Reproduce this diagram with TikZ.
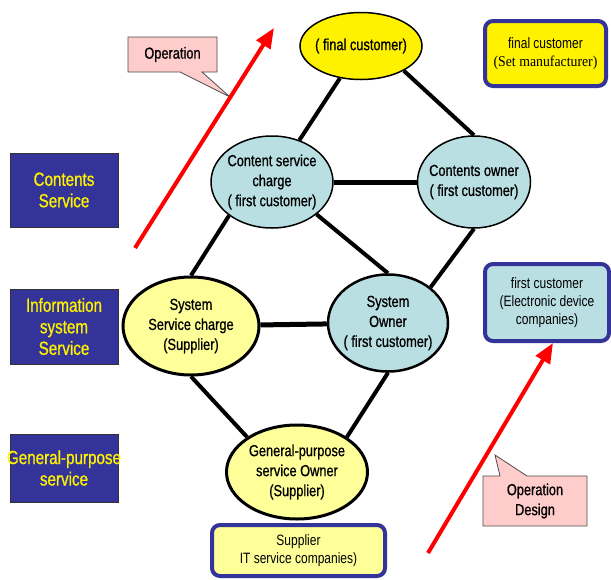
\documentclass[tikz,border=0pt]{standalone}
\usepackage{fontspec}
\setmainfont{Liberation Sans}[FakeStretch=0.8]
\newfontfamily\heavy{Liberation Sans}[FakeStretch=0.8,FakeBold=0.8]
\newfontfamily\tnr{Liberation Serif}[FakeStretch=0.92]
\usetikzlibrary{arrows.meta,shapes.geometric}
\definecolor{navy}{RGB}{51,51,153}
\definecolor{lblue}{RGB}{185,223,227}
\definecolor{pyellow}{RGB}{255,255,153}
\definecolor{pinkc}{RGB}{255,204,204}
\begin{document}
\begin{tikzpicture}[x=1pt,y=-1pt,
  ell/.style={draw=black, ellipse, inner sep=0pt},
  etext/.style={align=center, font=\heavy\fontsize{16}{20}\selectfont, inner sep=0pt},
  conn/.style={line width=4pt},
  layer/.style={draw=black!80, line width=0.8pt, fill=navy, text=yellow, align=center, font=\heavy\fontsize{19}{21.5}\selectfont, inner sep=0pt, minimum width=108pt},
  rbox/.style={draw=navy, line width=4pt, rounded corners=8pt, align=center, font=\fontsize{15}{18}\selectfont, inner sep=0pt},
  redarrow/.style={draw=red, line width=4pt, -{Triangle[length=20pt,width=16pt]}},
  callout/.style={draw=black!70, fill=pinkc, line width=0.8pt},
  ctext/.style={align=center, font=\heavy\fontsize{16}{20}\selectfont, inner sep=0pt},
]
\useasboundingbox (0,0) rectangle (611,579);

% callouts
\draw[callout] (128,37) -- (217,37) -- (217,72) -- (202,72) -- (230,97) -- (180,72) -- (128,72) -- cycle;
\node[ctext] (opL) at (172.5,54.5) {Operation};
\draw[callout] (483,476) -- (500,476) -- (495,455) -- (527,476) -- (587,476) -- (587,526) -- (483,526) -- cycle;
\node[ctext] (dsL) at (535,501) {Operation\\Design};

% red arrows
\coordinate (opS) at (135,248);
\coordinate (opE) at (274,28);
\draw[redarrow] (opS) -- (opE);
\coordinate (dsS) at (428,553);
\coordinate (dsE) at (553,343);
\draw[redarrow] (dsS) -- (dsE);

% ellipses
\node[ell, fill=yellow, line width=1.5pt, minimum width=122pt, minimum height=67pt] (top) at (361,46) {};
\node[etext] (topT) at (top) {( final customer)};
\node[ell, fill=lblue, line width=1.5pt, minimum width=122pt, minimum height=92pt] (csc) at (272,182) {};
\node[etext] (cscT) at (csc) {Content service\\charge\\( first customer)};
\node[ell, fill=lblue, line width=1.5pt, minimum width=113pt, minimum height=92pt] (co) at (474,182) {};
\node[etext] (coT) at (co) {Contents owner\\( first customer)};
\node[ell, fill=pyellow, line width=3pt, minimum width=136pt, minimum height=98pt] (ssc) at (191,326) {};
\node[etext] (sscT) at (ssc) {System\\Service charge\\(Supplier)};
\node[ell, fill=lblue, line width=2.5pt, minimum width=120pt, minimum height=97pt] (so) at (388,323) {};
\node[etext] (soT) at (so) {System\\Owner\\( first customer)};
\node[ell, fill=pyellow, line width=3pt, minimum width=141pt, minimum height=94pt] (gpo) at (297,472) {};
\node[etext] (gpoT) at (gpo) {General-purpose\\service Owner\\(Supplier)};

% connectors
\draw[conn] (top) -- (csc);
\draw[conn] (top.-30) -- (co.north);
\draw[conn, line width=5pt] (csc) -- (co);
\draw[conn] (csc.-36) -- (so.north);
\draw[conn] (co.south) -- (so.40);
\draw[conn] (csc.-142) -- (ssc.north);
\draw[conn, line width=5pt] (ssc) -- (so);
\draw[conn] (ssc.south) -- (gpo.145);
\draw[conn] (so.south) -- (gpo.35);

% left layer boxes
\node[layer, minimum height=74pt] (ls1) at (64,190) {Contents\\Service};
\node[layer, minimum height=75pt] (ls2) at (64,326.5) {Information\\system\\Service};
\node[layer, minimum height=68pt] (ls3) at (64,468) {\makebox[108pt]{General-purpose}\\service};

% right boxes
\node[rbox, fill=yellow, minimum width=121pt, minimum height=65pt] (fc) at (545.5,53.5) {final customer\\{\tnr (Set manufacturer)}};
\node[rbox, fill=lblue, minimum width=124pt, minimum height=77pt] (fcu) at (547,302.5) {first customer\\(Electronic device\\companies)};
\node[rbox, fill=pyellow, minimum width=173pt, minimum height=51pt] (sup) at (298.5,550.5) {Supplier\\IT service companies)};
\end{tikzpicture}
\end{document}
